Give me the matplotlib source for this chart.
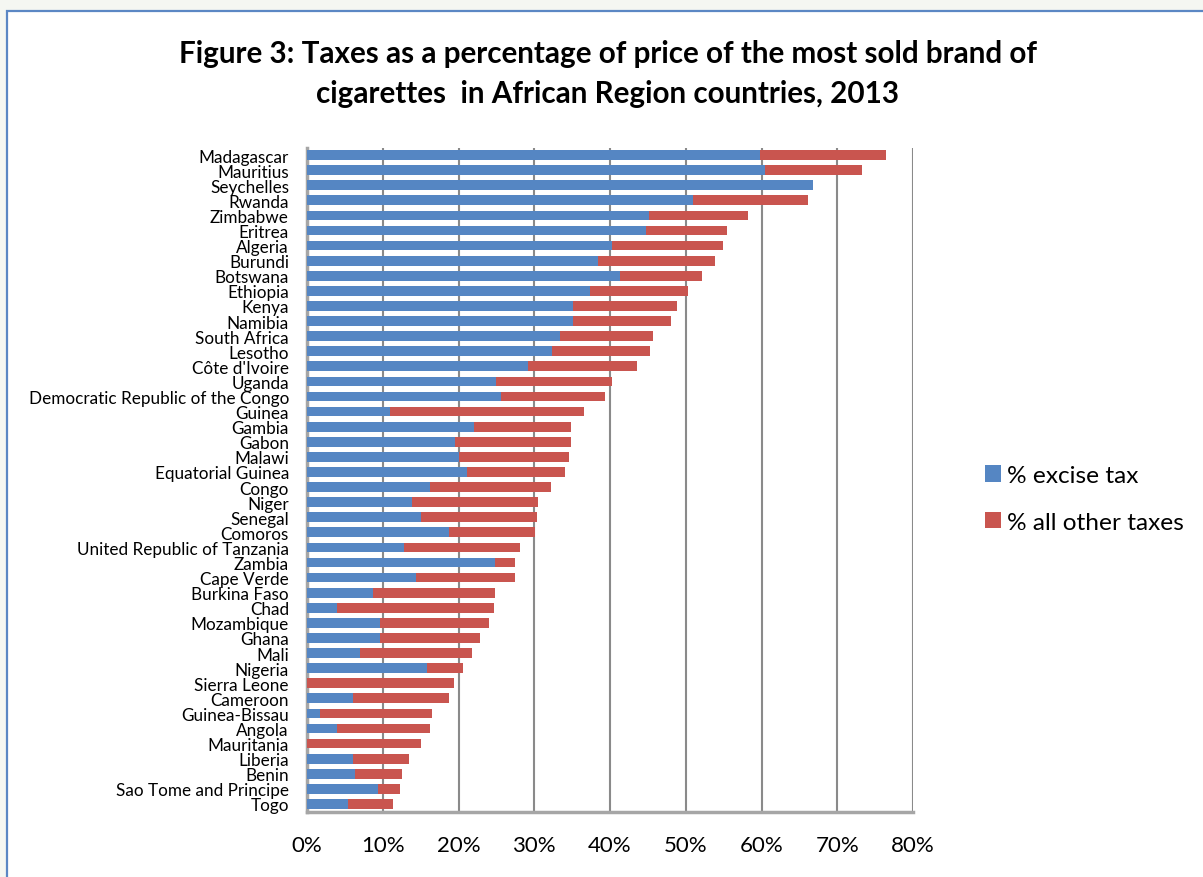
import matplotlib.pyplot as plt
import matplotlib.patches as mpatches
import numpy as np

# countries, top to bottom as in the figure
countries = ['Madagascar', 'Mauritius', 'Seychelles', 'Rwanda', 'Zimbabwe', 'Eritrea', 'Algeria',
             'Burundi', 'Botswana', 'Ethiopia', 'Kenya', 'Namibia', 'South Africa', 'Lesotho',
             "Côte d'Ivoire", 'Uganda', 'Democratic Republic of the Congo', 'Guinea', 'Gambia',
             'Gabon', 'Malawi', 'Equatorial Guinea', 'Congo', 'Niger', 'Senegal', 'Comoros',
             'United Republic of Tanzania', 'Zambia', 'Cape Verde', 'Burkina Faso', 'Chad',
             'Mozambique', 'Ghana', 'Mali', 'Nigeria', 'Sierra Leone', 'Cameroon', 'Guinea-Bissau',
             'Angola', 'Mauritania', 'Liberia', 'Benin', 'Sao Tome and Principe', 'Togo']

# % excise tax
excise = [59.8, 60.4, 66.8, 50.9, 45.1, 44.7, 40.3, 38.4, 41.3, 37.3, 35.1, 35.1, 33.4, 32.3,
          29.2, 25.0, 25.6, 11.0, 22.0, 19.6, 20.0, 21.1, 16.3, 13.9, 15.0, 18.8,
          12.8, 24.8, 14.4, 8.7, 4.0, 9.6, 9.6, 7.0, 15.8, 0.0, 6.1, 1.7,
          3.9, 0.0, 6.1, 6.3, 9.4, 5.4]

# total tax share, excise + all other taxes
total = [76.4, 73.3, 66.8, 66.2, 58.2, 55.5, 54.9, 53.8, 52.1, 50.3, 48.8, 48.0, 45.7, 45.3,
         43.6, 40.3, 39.4, 36.6, 34.8, 34.8, 34.6, 34.0, 32.2, 30.5, 30.3, 30.1,
         28.1, 27.5, 27.5, 24.8, 24.7, 24.0, 22.8, 21.8, 20.6, 19.4, 18.8, 16.5,
         16.3, 15.0, 13.4, 12.6, 12.3, 11.4]

other = [t - e for t, e in zip(total, excise)]

xticks = [0, 10, 20, 30, 40, 50, 60, 70, 80]

blue = '#5586c3'
red = '#c9554f'

plt.rcParams['font.family'] = ['Lato', 'DejaVu Sans']

fig = plt.figure(figsize=(12.03, 8.78), dpi=100)
fig.patch.set_facecolor('#f5f7f2')

# white page with the blue frame (right and bottom run off the picture)
W, H = 1203.0, 878.0
page = mpatches.Rectangle((7 / W, -0.05), 1.2, (H - 12) / H + 0.05, transform=fig.transFigure,
                          facecolor='white', edgecolor='#5b87c4', linewidth=1.6, zorder=-10)
fig.patches.append(page)

ax = fig.add_axes([307 / W, 65.5 / H, 606 / W, 664 / H])
ax.set_facecolor('none')

y = np.arange(len(countries))
ax.barh(y, excise, height=0.64, color=blue, label='% excise tax', zorder=3)
ax.barh(y, other, left=excise, height=0.64, color=red, label='% all other taxes', zorder=3)

ax.set_ylim(len(countries) - 0.5, -0.5)
ax.set_xlim(0, 80)
ax.set_yticks(y)
ax.set_yticklabels(countries, fontsize=12.3)
ax.set_xticks(xticks)
ax.set_xticklabels(['{}%'.format(v) for v in xticks], fontsize=16)
ax.tick_params(axis='y', length=0, pad=13)
ax.tick_params(axis='x', length=0, pad=17)

ax.set_axisbelow(True)
ax.grid(axis='x', color='#8a8a8a', linewidth=1.5, zorder=0)
for side in ['top', 'right']:
    ax.spines[side].set_visible(False)
for side in ['left', 'bottom']:
    ax.spines[side].set_color('#a6a6a6')
    ax.spines[side].set_linewidth(2.5)

fig.text(608 / W, 1 - 54 / H, 'Figure 3: Taxes as a percentage of price of the most sold brand of',
         ha='center', va='center', fontsize=21.3, fontweight='bold')
fig.text(608 / W, 1 - 94 / H, 'cigarettes  in African Region countries, 2013',
         ha='center', va='center', fontsize=21.3, fontweight='bold')

handles = [mpatches.Rectangle((0, 0), 1, 1, facecolor=blue),
           mpatches.Rectangle((0, 0), 1, 1, facecolor=red)]
fig.legend(handles, ['% excise tax', '% all other taxes'], loc='center left',
           bbox_to_anchor=(963 / W, 1 - 500 / H), frameon=False, fontsize=17.6,
           handlelength=0.65, handleheight=0.65, handletextpad=0.25, labelspacing=1.05)

fig.savefig('out.png', dpi=100)
